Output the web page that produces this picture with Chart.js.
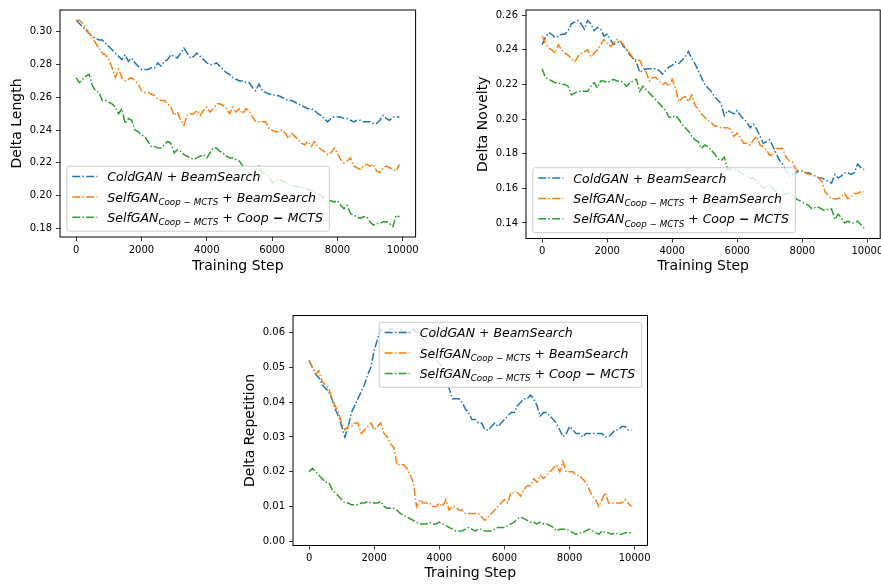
<!DOCTYPE html>
<html>
<head>
<meta charset="utf-8">
<script src="https://cdn.jsdelivr.net/npm/chart.js@4.4.1/dist/chart.umd.min.js"></script>
<style>
  html, body { margin: 0; padding: 0; background: #fff; overflow: hidden; width: 881px; height: 585px; }
  canvas { position: absolute; }
</style>
</head>
<body>
<canvas id="length-chart" width="440" height="290" style="left:0;top:0"></canvas>
<canvas id="novelty-chart" width="460" height="290" style="left:440px;top:0"></canvas>
<canvas id="repetition-chart" width="440" height="285" style="left:230px;top:300px"></canvas>
<script>
// x positions: one reading every 100 training steps (0 .. 9900)
const trainingSteps = Array.from({ length: 100 }, (_, i) => i * 100);
const stepTicks = [0, 2000, 4000, 6000, 8000, 10000];

const seriesNames = [
  'ColdGAN + BeamSearch',
  'SelfGAN_Coop-MCTS + BeamSearch',
  'SelfGAN_Coop-MCTS + Coop - MCTS',
];
const seriesColors = ['#1f77b4', '#ff7f0e', '#2ca02c'];

// legend text pieces: it = italic, rm = upright, bold = heavy minus, sub / subrm = subscript
const legendParts = [
  [['ColdGAN', 'it'], [' + ', 'rm'], ['BeamSearch', 'it']],
  [['SelfGAN', 'it'], ['Coop', 'sub'], [' \u2212 ', 'subrm'], ['MCTS', 'sub'], [' + ', 'rm'], ['BeamSearch', 'it']],
  [['SelfGAN', 'it'], ['Coop', 'sub'], [' \u2212 ', 'subrm'], ['MCTS', 'sub'], [' + ', 'rm'], ['Coop', 'it'], [' \u2212 ', 'bold'], ['MCTS', 'it']],
];

// ---- Delta Length ----
const lengthTicks = [0.18, 0.20, 0.22, 0.24, 0.26, 0.28, 0.30];
const lengthColdGan = [
  0.307, 0.305, 0.303, 0.301, 0.299, 0.297, 0.296, 0.295, 0.295, 0.293,
  0.291, 0.289, 0.287, 0.285, 0.283, 0.286, 0.282, 0.284, 0.281, 0.279,
  0.277, 0.277, 0.277, 0.278, 0.278, 0.281, 0.279, 0.282, 0.283, 0.286,
  0.285, 0.284, 0.287, 0.290, 0.287, 0.284, 0.285, 0.287, 0.285, 0.283,
  0.281, 0.280, 0.280, 0.281, 0.279, 0.277, 0.275, 0.274, 0.272, 0.271,
  0.270, 0.270, 0.269, 0.269, 0.266, 0.264, 0.268, 0.264, 0.263, 0.262,
  0.262, 0.261, 0.261, 0.260, 0.259, 0.258, 0.258, 0.257, 0.256, 0.255,
  0.254, 0.253, 0.253, 0.252, 0.250, 0.249, 0.247, 0.245, 0.247, 0.248,
  0.248, 0.248, 0.247, 0.247, 0.246, 0.245, 0.246, 0.246, 0.245, 0.245,
  0.245, 0.244, 0.244, 0.246, 0.249, 0.247, 0.246, 0.248, 0.248, 0.248,
];
const lengthSelfGanBeam = [
  0.307, 0.307, 0.305, 0.302, 0.299, 0.296, 0.293, 0.290, 0.287, 0.286,
  0.283, 0.278, 0.272, 0.277, 0.272, 0.270, 0.271, 0.272, 0.270, 0.268,
  0.264, 0.263, 0.263, 0.262, 0.261, 0.259, 0.258, 0.258, 0.256, 0.254,
  0.249, 0.251, 0.246, 0.243, 0.249, 0.250, 0.250, 0.252, 0.249, 0.252,
  0.254, 0.251, 0.253, 0.256, 0.256, 0.255, 0.253, 0.250, 0.254, 0.251,
  0.253, 0.250, 0.253, 0.252, 0.248, 0.245, 0.245, 0.245, 0.245, 0.241,
  0.240, 0.239, 0.239, 0.240, 0.238, 0.235, 0.238, 0.236, 0.234, 0.232,
  0.231, 0.233, 0.230, 0.233, 0.230, 0.228, 0.227, 0.225, 0.226, 0.229,
  0.226, 0.222, 0.220, 0.221, 0.223, 0.218, 0.217, 0.216, 0.218, 0.219,
  0.218, 0.219, 0.215, 0.214, 0.217, 0.218, 0.217, 0.216, 0.215, 0.219,
];
const lengthSelfGanMcts = [
  0.272, 0.269, 0.271, 0.273, 0.274, 0.267, 0.264, 0.263, 0.258, 0.258,
  0.257, 0.256, 0.254, 0.250, 0.253, 0.244, 0.247, 0.246, 0.240, 0.239,
  0.237, 0.236, 0.233, 0.230, 0.230, 0.229, 0.229, 0.231, 0.233, 0.232,
  0.226, 0.228, 0.227, 0.225, 0.224, 0.223, 0.222, 0.223, 0.224, 0.225,
  0.223, 0.226, 0.229, 0.229, 0.227, 0.226, 0.224, 0.223, 0.223, 0.222,
  0.221, 0.218, 0.215, 0.214, 0.210, 0.216, 0.218, 0.214, 0.213, 0.212,
  0.208, 0.209, 0.210, 0.209, 0.208, 0.207, 0.206, 0.206, 0.205, 0.205,
  0.204, 0.204, 0.203, 0.202, 0.201, 0.200, 0.198, 0.196, 0.197, 0.196,
  0.197, 0.194, 0.192, 0.194, 0.189, 0.188, 0.187, 0.186, 0.187, 0.187,
  0.184, 0.182, 0.183, 0.183, 0.184, 0.184, 0.183, 0.181, 0.188, 0.187,
];

// ---- Delta Novelty ----
const noveltyTicks = [0.14, 0.16, 0.18, 0.20, 0.22, 0.24, 0.26];
const noveltyColdGan = [
  0.243, 0.247, 0.250, 0.249, 0.247, 0.248, 0.249, 0.249, 0.251, 0.255,
  0.256, 0.257, 0.255, 0.252, 0.257, 0.255, 0.251, 0.253, 0.252, 0.248,
  0.249, 0.246, 0.243, 0.244, 0.245, 0.242, 0.240, 0.237, 0.235, 0.233,
  0.227, 0.228, 0.229, 0.229, 0.229, 0.229, 0.228, 0.226, 0.228, 0.230,
  0.231, 0.233, 0.232, 0.234, 0.236, 0.239, 0.235, 0.232, 0.228, 0.224,
  0.220, 0.218, 0.216, 0.213, 0.211, 0.209, 0.202, 0.205, 0.204, 0.203,
  0.205, 0.202, 0.200, 0.198, 0.195, 0.197, 0.194, 0.190, 0.186, 0.187,
  0.188, 0.184, 0.180, 0.176, 0.174, 0.170, 0.167, 0.168, 0.169, 0.170,
  0.170, 0.169, 0.169, 0.168, 0.167, 0.166, 0.166, 0.165, 0.164, 0.163,
  0.168, 0.166, 0.167, 0.169, 0.169, 0.168, 0.169, 0.174, 0.172, 0.171,
];
const noveltySelfGanBeam = [
  0.248, 0.244, 0.241, 0.240, 0.238, 0.243, 0.240, 0.238, 0.237, 0.235,
  0.233, 0.236, 0.238, 0.239, 0.240, 0.236, 0.238, 0.240, 0.243, 0.246,
  0.244, 0.242, 0.244, 0.246, 0.245, 0.243, 0.240, 0.238, 0.235, 0.234,
  0.234, 0.230, 0.227, 0.222, 0.224, 0.224, 0.222, 0.220, 0.221, 0.219,
  0.223, 0.218, 0.210, 0.212, 0.213, 0.210, 0.214, 0.208, 0.206, 0.203,
  0.201, 0.199, 0.198, 0.196, 0.196, 0.195, 0.195, 0.195, 0.194, 0.190,
  0.192, 0.189, 0.186, 0.186, 0.185, 0.188, 0.190, 0.185, 0.184, 0.182,
  0.179, 0.180, 0.183, 0.183, 0.183, 0.178, 0.176, 0.175, 0.171, 0.170,
  0.170, 0.169, 0.168, 0.168, 0.167, 0.166, 0.164, 0.158, 0.156, 0.154,
  0.154, 0.154, 0.155, 0.157, 0.154, 0.155, 0.157, 0.157, 0.158, 0.158,
];
const noveltySelfGanMcts = [
  0.229, 0.224, 0.223, 0.222, 0.221, 0.221, 0.220, 0.220, 0.219, 0.214,
  0.215, 0.216, 0.216, 0.216, 0.216, 0.219, 0.221, 0.218, 0.222, 0.222,
  0.221, 0.222, 0.223, 0.222, 0.222, 0.221, 0.219, 0.221, 0.222, 0.223,
  0.216, 0.219, 0.217, 0.215, 0.213, 0.211, 0.209, 0.207, 0.205, 0.201,
  0.201, 0.202, 0.200, 0.197, 0.195, 0.193, 0.190, 0.188, 0.187, 0.183,
  0.185, 0.184, 0.182, 0.180, 0.177, 0.176, 0.178, 0.171, 0.171, 0.171,
  0.171, 0.169, 0.168, 0.167, 0.166, 0.166, 0.164, 0.162, 0.160, 0.161,
  0.162, 0.160, 0.158, 0.157, 0.156, 0.157, 0.157, 0.156, 0.154, 0.153,
  0.152, 0.151, 0.150, 0.148, 0.149, 0.149, 0.148, 0.147, 0.148, 0.148,
  0.142, 0.145, 0.143, 0.140, 0.141, 0.140, 0.140, 0.141, 0.139, 0.137,
];

// ---- Delta Repetition ----
const repetitionTicks = [0.00, 0.01, 0.02, 0.03, 0.04, 0.05, 0.06];
const repetitionColdGan = [
  0.052, 0.050, 0.048, 0.047, 0.045, 0.044, 0.043, 0.041, 0.038, 0.036,
  0.033, 0.030, 0.033, 0.037, 0.039, 0.041, 0.043, 0.045, 0.048, 0.050,
  0.055, 0.058, 0.061, 0.060, 0.060, 0.061, 0.061, 0.061, 0.061, 0.060,
  0.060, 0.060, 0.061, 0.060, 0.059, 0.058, 0.057, 0.056, 0.054, 0.052,
  0.051, 0.050, 0.046, 0.044, 0.041, 0.041, 0.041, 0.040, 0.038, 0.037,
  0.035, 0.035, 0.034, 0.034, 0.032, 0.032, 0.033, 0.034, 0.033, 0.034,
  0.035, 0.036, 0.037, 0.037, 0.039, 0.040, 0.041, 0.041, 0.042, 0.041,
  0.039, 0.036, 0.037, 0.037, 0.036, 0.035, 0.034, 0.032, 0.030, 0.031,
  0.033, 0.032, 0.031, 0.031, 0.030, 0.031, 0.031, 0.031, 0.031, 0.031,
  0.031, 0.030, 0.030, 0.031, 0.032, 0.032, 0.033, 0.033, 0.032, 0.032,
];
const repetitionSelfGanBeam = [
  0.052, 0.050, 0.048, 0.049, 0.046, 0.045, 0.044, 0.041, 0.039, 0.037,
  0.034, 0.032, 0.033, 0.033, 0.034, 0.034, 0.031, 0.032, 0.033, 0.034,
  0.032, 0.033, 0.034, 0.031, 0.030, 0.028, 0.027, 0.022, 0.022, 0.022,
  0.021, 0.019, 0.017, 0.010, 0.012, 0.011, 0.011, 0.011, 0.010, 0.010,
  0.011, 0.010, 0.012, 0.009, 0.010, 0.010, 0.009, 0.009, 0.008, 0.008,
  0.008, 0.008, 0.008, 0.007, 0.006, 0.007, 0.008, 0.009, 0.010, 0.011,
  0.012, 0.011, 0.014, 0.014, 0.014, 0.013, 0.015, 0.016, 0.016, 0.018,
  0.017, 0.019, 0.018, 0.019, 0.020, 0.021, 0.022, 0.020, 0.023, 0.020,
  0.020, 0.020, 0.019, 0.019, 0.018, 0.017, 0.015, 0.013, 0.012, 0.010,
  0.012, 0.014, 0.011, 0.011, 0.011, 0.011, 0.011, 0.012, 0.011, 0.010,
];
const repetitionSelfGanMcts = [
  0.0200, 0.0210, 0.0200, 0.0190, 0.0180, 0.0170, 0.0170, 0.0150, 0.0140, 0.0130,
  0.0120, 0.0110, 0.0110, 0.0105, 0.0105, 0.0105, 0.0110, 0.0110, 0.0115, 0.0110,
  0.0110, 0.0110, 0.0115, 0.0100, 0.0095, 0.0095, 0.0095, 0.0090, 0.0080, 0.0075,
  0.0070, 0.0065, 0.0060, 0.0055, 0.0050, 0.0050, 0.0050, 0.0055, 0.0050, 0.0050,
  0.0055, 0.0050, 0.0045, 0.0040, 0.0035, 0.0030, 0.0030, 0.0030, 0.0035, 0.0040,
  0.0035, 0.0030, 0.0035, 0.0035, 0.0030, 0.0030, 0.0030, 0.0035, 0.0040, 0.0040,
  0.0040, 0.0045, 0.0050, 0.0055, 0.0065, 0.0070, 0.0065, 0.0060, 0.0055, 0.0055,
  0.0050, 0.0055, 0.0050, 0.0050, 0.0045, 0.0040, 0.0030, 0.0035, 0.0035, 0.0035,
  0.0030, 0.0025, 0.0020, 0.0025, 0.0025, 0.0030, 0.0035, 0.0030, 0.0025, 0.0020,
  0.0030, 0.0025, 0.0025, 0.0020, 0.0025, 0.0020, 0.0020, 0.0025, 0.0025, 0.0025,
];

const FONT = '"DejaVu Sans", sans-serif';
const LINE_DASH = [8, 2.2, 1.5, 2.2];

// full matplotlib-like frame round the plot area
const framePlugin = {
  id: 'frame',
  afterDatasetsDraw(chart) {
    const { ctx, chartArea: a } = chart;
    ctx.save();
    ctx.strokeStyle = '#000';
    ctx.lineWidth = 1;
    ctx.strokeRect(a.left, a.top, a.right - a.left, a.bottom - a.top);
    ctx.restore();
  },
};

function partFont(style, size) {
  const sub = style.startsWith('sub');
  const italic = style === 'it' || style === 'sub';
  const px = sub ? size * 0.7 : size;
  return `${italic ? 'italic ' : ''}${style === 'bold' ? 'bold ' : ''}${px}px ${FONT}`;
}

function drawParts(ctx, parts, x, y, size, draw) {
  let cx = x;
  parts.forEach(([text, style]) => {
    ctx.font = partFont(style, size);
    if (draw) ctx.fillText(text, cx, style.startsWith('sub') ? y + size * 0.25 : y);
    cx += ctx.measureText(text).width;
  });
  return cx - x;
}

// legend with sub-scripted labels, drawn after everything else
const mathLegendPlugin = {
  id: 'mathLegend',
  afterDraw(chart, args, opts) {
    const { ctx, chartArea: a } = chart;
    const size = 12.5;
    const rowGap = 20.4;
    const boxH = 65;
    ctx.save();
    const textW = Math.max(...legendParts.map((p) => drawParts(ctx, p, 0, 0, size, false)));
    const boxW = 41 + textW + 6;
    const pad = 6.3;
    const bx = opts.loc === 'upper right' ? a.right - pad - boxW : a.left + pad;
    const by = opts.loc === 'upper right' ? a.top + pad : a.bottom - pad - boxH;

    ctx.beginPath();
    ctx.roundRect(bx + 0.5, by + 0.5, boxW, boxH, 2.5);
    ctx.fillStyle = 'rgba(255,255,255,0.8)';
    ctx.fill();
    ctx.strokeStyle = '#cccccc';
    ctx.lineWidth = 1;
    ctx.stroke();

    legendParts.forEach((parts, i) => {
      const cy = by + 10.8 + i * rowGap;
      ctx.beginPath();
      ctx.setLineDash(LINE_DASH);
      ctx.strokeStyle = seriesColors[i];
      ctx.lineWidth = 1.5;
      ctx.moveTo(bx + 6, cy);
      ctx.lineTo(bx + 31, cy);
      ctx.stroke();
      ctx.setLineDash([]);
      ctx.fillStyle = '#000';
      ctx.textBaseline = 'alphabetic';
      drawParts(ctx, parts, bx + 41, cy + 4.6, size, true);
    });
    ctx.restore();
  },
};

function buildChart(canvasId, cfg) {
  const ctx = document.getElementById(canvasId).getContext('2d');
  const datasets = cfg.series.map((values, i) => ({
    label: seriesNames[i],
    data: values.map((v, j) => ({ x: trainingSteps[j], y: v })),
    borderColor: seriesColors[i],
    borderWidth: 1.5,
    borderDash: LINE_DASH,
    pointRadius: 0,
    fill: false,
    tension: 0,
    order: 2 - i,
  }));

  // eslint-disable-next-line no-undef,no-unused-vars
  const chart = new Chart(ctx, {
    type: 'line',
    data: { datasets },
    plugins: [framePlugin, mathLegendPlugin],
    options: {
      responsive: false,
      animation: false,
      devicePixelRatio: 1,
      layout: { padding: { top: cfg.padTop, right: cfg.padRight, left: 0, bottom: 0 } },
      plugins: {
        legend: { display: false },
        tooltip: { enabled: false },
        mathLegend: { loc: cfg.legendLoc },
      },
      scales: {
        x: {
          type: 'linear',
          min: -495,
          max: 10395,
          afterBuildTicks: (scale) => { scale.ticks = stepTicks.map((v) => ({ value: v })); },
          afterFit: (scale) => { scale.height = cfg.xHeight; },
          ticks: { color: '#000', font: { family: FONT, size: 10 }, padding: 3, maxRotation: 0, callback: (v) => String(v) },
          grid: { drawOnChartArea: false, drawTicks: true, tickLength: 4, color: '#000', lineWidth: 0.8 },
          border: { display: false },
          title: { display: true, text: 'Training Step', color: '#000', font: { family: FONT, size: 14 }, padding: { top: 0, bottom: cfg.xTitlePad } },
        },
        y: {
          type: 'linear',
          min: cfg.yMin,
          max: cfg.yMax,
          afterBuildTicks: (scale) => { scale.ticks = cfg.yTicks.map((v) => ({ value: v })); },
          afterFit: (scale) => { scale.width = cfg.yWidth; },
          ticks: { color: '#000', font: { family: FONT, size: 10 }, padding: 4, callback: (v) => v.toFixed(2) },
          grid: { drawOnChartArea: false, drawTicks: true, tickLength: 4, color: '#000', lineWidth: 0.8 },
          border: { display: false },
          title: { display: true, text: cfg.yTitle, color: '#000', font: { family: FONT, size: 14 }, padding: { top: cfg.yTitlePad, bottom: 0 } },
        },
      },
    },
  });
}

buildChart('length-chart', {
  series: [lengthColdGan, lengthSelfGanBeam, lengthSelfGanMcts],
  yTicks: lengthTicks, yMin: 0.1747, yMax: 0.3133, yTitle: 'Delta Length',
  padTop: 8, padRight: 24.4, yWidth: 60, xHeight: 53, yTitlePad: 8.6, xTitlePad: 15.5,
  legendLoc: 'lower left',
});

buildChart('novelty-chart', {
  series: [noveltyColdGan, noveltySelfGanBeam, noveltySelfGanMcts],
  yTicks: noveltyTicks, yMin: 0.131, yMax: 0.263, yTitle: 'Delta Novelty',
  padTop: 8.5, padRight: 19.8, yWidth: 86, xHeight: 51.5, yTitlePad: 35, xTitlePad: 15,
  legendLoc: 'lower left',
});

buildChart('repetition-chart', {
  series: [repetitionColdGan, repetitionSelfGanBeam, repetitionSelfGanMcts],
  yTicks: repetitionTicks, yMin: -0.0012, yMax: 0.0649, yTitle: 'Delta Repetition',
  padTop: 15.5, padRight: 22.5, yWidth: 63, xHeight: 39.5, yTitlePad: 11.6, xTitlePad: 3.3,
  legendLoc: 'upper right',
});
</script>
</body>
</html>
